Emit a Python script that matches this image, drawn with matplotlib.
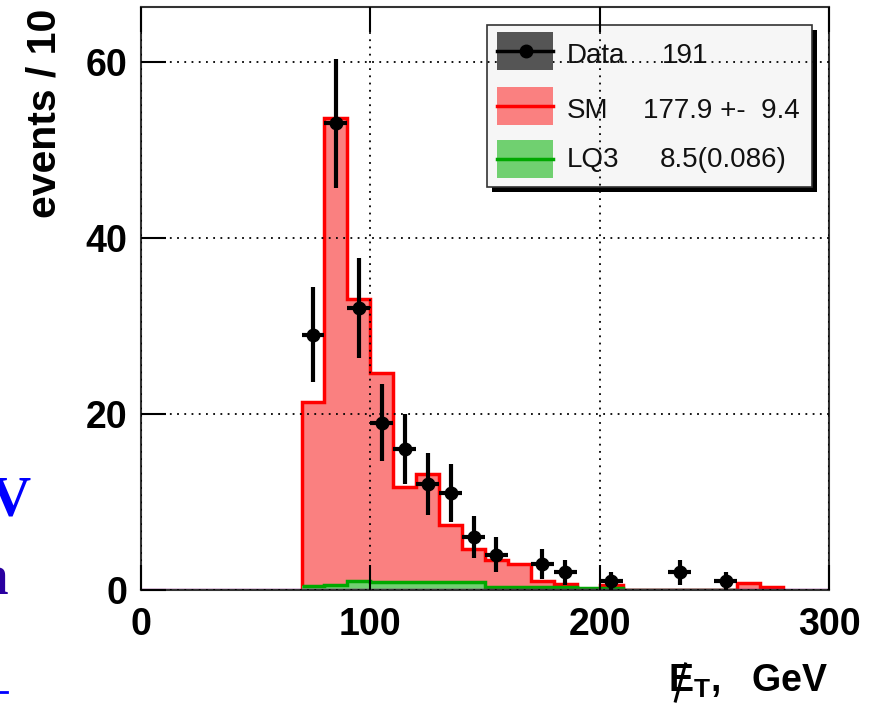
import matplotlib
matplotlib.use("Agg")
import matplotlib.pyplot as plt
from matplotlib.patches import Rectangle
from matplotlib.lines import Line2D

plt.rcParams['font.family'] = ['Liberation Sans', 'DejaVu Sans']
plt.rcParams['mathtext.fontset'] = 'custom'
plt.rcParams['mathtext.rm'] = 'Liberation Sans:bold'
plt.rcParams['mathtext.it'] = 'Liberation Sans:bold'
plt.rcParams['mathtext.bf'] = 'Liberation Sans:bold'

# SM background, 10 GeV bins from 70 to 280
sm_edges = [70, 80, 90, 100, 110, 120, 130, 140, 150, 160, 170, 180, 190, 200,
            210, 220, 230, 240, 250, 260, 270, 280]
sm_counts = [21.4, 53.6, 33.0, 24.6, 11.7, 13.2, 7.4, 4.6, 3.4, 2.9, 1.0, 0.7,
             0.1, 0.6, 0.0, 0.0, 0.0, 0.0, 0.0, 0.8, 0.3]

# LQ3 signal, 10 GeV bins from 70 to 260
lq_edges = [70, 80, 90, 100, 110, 120, 130, 140, 150, 160, 170, 180, 190, 200,
            210, 220, 230, 240, 250, 260]
lq_counts = [0.4, 0.6, 1.0, 0.9, 0.9, 0.9, 0.9, 0.9, 0.35, 0.35, 0.35, 0.35,
             0.25, 0.2, 0.05, 0.05, 0.05, 0.05, 0.05]

# data points
data_x = [75, 85, 95, 105, 115, 125, 135, 145, 155, 175, 185, 205, 235, 255]
data_y = [29, 53, 32, 19, 16, 12, 11, 6, 4, 3, 2, 1, 2, 1]
data_err = [5.4, 7.3, 5.7, 4.4, 4.0, 3.5, 3.3, 2.4, 2.0, 1.7, 1.4, 1.0, 1.4, 1.0]
data_xerr = 5

legend_names = ['Data', 'SM', 'LQ3']
legend_values = ['191', '177.9 +-  9.4', '8.5(0.086)']

W, H = 876, 704
fig = plt.figure(figsize=(W / 100, H / 100), dpi=100)
ax = fig.add_axes([141 / W, 1 - 590 / H, 688 / W, 583 / H])

ax.stairs(sm_counts, sm_edges, fill=True, color='#fa8080', zorder=1)
ax.stairs(sm_counts, sm_edges, baseline=0, color='#ff0000', lw=2.5, zorder=1.2)
ax.stairs(lq_counts, lq_edges, fill=True, color='#70d070', zorder=1.4)
ax.stairs(lq_counts, lq_edges, baseline=None, color='#00a800', lw=2.5, zorder=1.5)
ax.plot([0, 300], [0, 0], color='#8a1a8a', lw=2.5, zorder=1.6)

ax.errorbar(data_x, data_y, yerr=data_err, xerr=data_xerr, fmt='o', color='black',
            ms=9, elinewidth=3, capsize=0, zorder=4)

ax.set_xlim(0, 300)
ax.set_ylim(0, 66.2)
ax.set_xticks([0, 100, 200, 300])
ax.set_yticks([0, 20, 40, 60])
ax.set_axisbelow(False)
ax.grid(True, linestyle=(0, (1, 3)), color='black', lw=1.3, zorder=3)
ax.tick_params(direction='in', length=18, width=1.5, top=True, right=False,
               labelsize=27, pad=12)
ax.tick_params(axis='y', pad=10)
for lab in ax.get_xticklabels() + ax.get_yticklabels():
    lab.set_fontweight('bold')
for s in ax.spines.values():
    s.set_color('#333333')
    s.set_linewidth(1.5)

fig.text(45 / W, 1 - 9 / H, 'events / 10', rotation=90, ha='center', va='top',
         fontsize=29.5, fontweight='bold')
xl = fig.text(829 / W, 1 - 692 / H, r'$E_{T}$,   GeV', ha='right', va='baseline',
              fontsize=27, fontweight='bold')
# slash through the E of the missing-ET label
fig.canvas.draw()
bb = xl.get_window_extent()
x0 = bb.x0
fig.add_artist(Line2D([(x0 + 17) / W, (x0 + 7) / W], [(H - 664) / H, (H - 701) / H],
                      color='black', lw=2.2))


# legend drawn by hand in pixel units
def axp(px, py):
    return ((px - 141) / 688, (590 - py) / 583)


def rect(x0, y0, x1, y1, **kw):
    xa, ya = axp(x0, y1)
    xb, yb = axp(x1, y0)
    return Rectangle((xa, ya), xb - xa, yb - ya, transform=ax.transAxes, **kw)


ax.add_patch(rect(492, 30, 817, 192, facecolor='black', edgecolor='none', zorder=0.8))
ax.add_patch(rect(487, 25, 812, 187, facecolor='#f6f6f6', edgecolor='#333333',
                  lw=1.2, zorder=0.9))
swatch_fill = ['#555555', '#fa8080', '#70d070']
swatch_line = ['black', '#ff0000', '#00a800']
rows = [51, 106, 159]
text_base = [63, 118, 167]
for i in range(3):
    yc = rows[i]
    ax.add_patch(rect(497, yc - 19, 553, yc + 19, facecolor=swatch_fill[i],
                      edgecolor='none', zorder=5))
    p0 = axp(497, yc)
    p1 = axp(553, yc)
    ax.add_line(Line2D([p0[0], p1[0]], [p0[1], p1[1]], transform=ax.transAxes,
                       color=swatch_line[i], lw=2.5, zorder=6))
    if i == 0:
        pm = axp(526, yc)
        ax.add_line(Line2D([pm[0]], [pm[1]], transform=ax.transAxes, marker='o',
                           ms=9, color='black', zorder=7))
    tx = axp(567, text_base[i])
    ax.text(tx[0], tx[1], legend_names[i], transform=ax.transAxes, ha='left',
            va='baseline', fontsize=20, color='#111111', zorder=7)
vx = [662, 643, 660]
for i in range(3):
    tv = axp(vx[i], text_base[i])
    ax.text(tv[0], tv[1], legend_values[i], transform=ax.transAxes, ha='left',
            va='baseline', fontsize=20, color='#111111', zorder=7)

# pieces of slide text cut off at the left edge
fig.text(-11 / W, 1 - 515 / H, 'V', family='Liberation Serif', fontweight='bold',
         fontsize=41, color='#0000ff', ha='left', va='baseline')
fig.text(8 / W, 1 - 594 / H, 'n', family='Liberation Serif', fontweight='bold',
         fontsize=41, color='#2a00a0', ha='right', va='baseline')
fig.add_artist(Line2D([0, 7 / W], [1 - 692 / H, 1 - 692 / H], color='#0000ff', lw=2))

fig.savefig('out.png', dpi=100)
